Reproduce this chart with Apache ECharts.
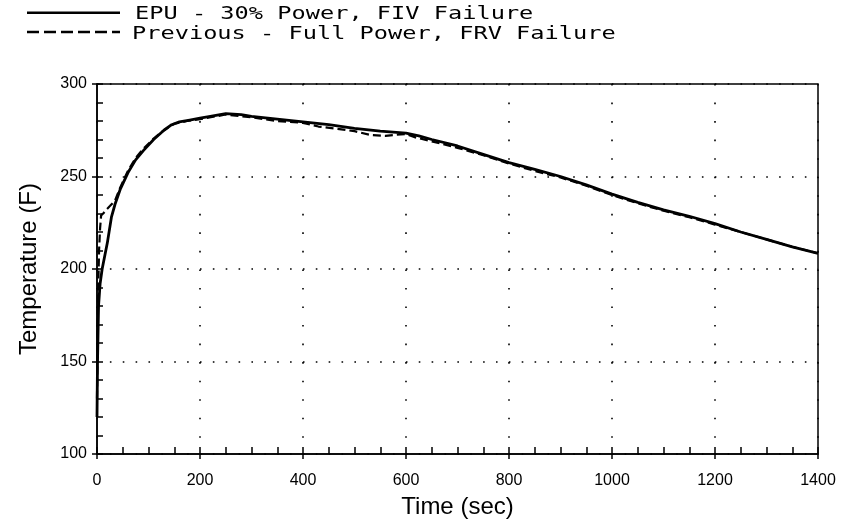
<!DOCTYPE html>
<html>
<head>
<meta charset="utf-8">
<script src="https://cdn.jsdelivr.net/npm/echarts@6/dist/echarts.min.js"></script>
<style>html,body{margin:0;padding:0;background:#fff}#c{width:842px;height:527px}</style>
</head>
<body>
<div id="c"></div>
<script>
// Series names
var seriesNames = ['EPU - 30% Power, FIV Failure', 'Previous - Full Power, FRV Failure'];
// EPU series (solid)
var epuTime = [0, 1, 3, 6, 10, 15, 20, 28, 35, 45, 60, 75, 90, 110, 130, 145, 160, 180, 200, 220, 250, 280, 300, 350, 400, 450, 500, 550, 600, 625, 650, 700, 750, 800, 850, 900, 950, 1000, 1050, 1100, 1150, 1200, 1250, 1300, 1350, 1400];
var epuTemp = [120, 150, 180, 192, 200, 207, 214, 228, 235, 243, 252, 259, 264, 270, 275, 278, 279.5, 280.5, 281.5, 282.5, 284, 283.5, 282.5, 281, 279.5, 278, 276, 274.5, 273.5, 272, 270, 266.5, 262, 257.5, 253.8, 250, 245.5, 240.5, 236, 232, 228.5, 224.5, 220, 216, 212, 208.5];
// Previous series (dashed)
var prevTime = [0, 2, 4, 6, 8, 12, 18, 25, 35, 45, 60, 75, 90, 110, 130, 150, 175, 200, 250, 300, 350, 400, 430, 460, 500, 530, 560, 600, 620, 650, 700, 750, 800, 850, 900, 950, 1000, 1050, 1100, 1150, 1200, 1250, 1300, 1350, 1400];
var prevTemp = [130, 185, 210, 222, 229, 230, 232, 234, 237, 244, 253, 260, 265, 270.5, 275, 278.5, 280, 281, 283.5, 282, 280, 279, 277, 276, 274.5, 272.5, 272, 273, 271, 269, 265.5, 261.5, 257, 253, 249.5, 245, 240, 235.5, 231.5, 228, 224, 220, 216, 212, 208.5];
// Axis settings
var xTitle = 'Time (sec)';
var yTitle = 'Temperature (F)';

function pairs(xs, ys) { return xs.map(function (x, i) { return [x, ys[i]]; }); }
function plain(v) { return String(v); }

var chart = echarts.init(document.getElementById('c'), null, {renderer: 'canvas'});
var lblFont = 'Liberation Sans';
chart.setOption({
  animation: false,
  backgroundColor: '#fff',
  grid: {left: 97, right: 24, top: 84, bottom: 73, show: true, borderColor: '#000', borderWidth: 1.5, backgroundColor: 'transparent'},
  xAxis: [{
    type: 'value', min: 0, max: 1400, interval: 200, position: 'bottom',
    name: xTitle, nameLocation: 'middle', nameGap: 41,
    nameTextStyle: {fontSize: 24, color: '#000', fontFamily: lblFont},
    axisLine: {show: true, lineStyle: {color: '#000', width: 1.5}},
    axisTick: {show: true, inside: false, length: 5, lineStyle: {color: '#000', width: 1.5}},
    axisLabel: {fontSize: 16, color: '#000', margin: 19, fontFamily: lblFont, formatter: plain},
    splitLine: {show: true, lineStyle: {color: '#000', width: 1.6, type: [1.6, 16.94]}}
  }, {
    type: 'value', min: 0, max: 1400, interval: 50, position: 'bottom',
    axisLine: {show: false},
    axisTick: {show: true, inside: true, length: 7, lineStyle: {color: '#000', width: 1.5}},
    axisLabel: {show: false},
    splitLine: {show: false}
  }],
  yAxis: [{
    type: 'value', min: 100, max: 300, interval: 50, position: 'left',
    name: yTitle, nameLocation: 'middle', nameGap: 56,
    nameTextStyle: {fontSize: 24, color: '#000', fontFamily: lblFont},
    axisLine: {show: true, lineStyle: {color: '#000', width: 1.5}},
    axisTick: {show: true, inside: false, length: 5, lineStyle: {color: '#000', width: 1.5}},
    axisLabel: {fontSize: 16, color: '#000', margin: 10, fontFamily: lblFont, formatter: plain},
    splitLine: {show: true, lineStyle: {color: '#000', width: 1.6, type: [1.6, 11.27]}}
  }, {
    type: 'value', min: 100, max: 300, interval: 10, position: 'left',
    axisLine: {show: false},
    axisTick: {show: true, inside: true, length: 6, lineStyle: {color: '#000', width: 1.5}},
    axisLabel: {show: false},
    splitLine: {show: false}
  }],
  series: [{
    name: seriesNames[0], type: 'line', xAxisIndex: 0, yAxisIndex: 0,
    data: pairs(epuTime, epuTemp), symbol: 'none', smooth: false,
    lineStyle: {color: '#000', width: 2.8, type: 'solid'}, z: 3
  }, {
    name: seriesNames[1], type: 'line', xAxisIndex: 0, yAxisIndex: 0,
    data: pairs(prevTime, prevTemp), symbol: 'none', smooth: false,
    lineStyle: {color: '#000', width: 2.2, type: [8, 4]}, z: 4
  }],
  graphic: [
    {type: 'line', shape: {x1: 27, y1: 12.7, x2: 120, y2: 12.7}, style: {stroke: '#000', lineWidth: 2.6}},
    {type: 'line', shape: {x1: 27, y1: 32, x2: 120, y2: 32}, style: {stroke: '#000', lineWidth: 2.6, lineDash: [12, 5]}},
    {type: 'text', x: 135, y: 15, scaleX: 1.39, style: {text: seriesNames[0], fontSize: 17, fontFamily: 'DejaVu Sans Mono', fill: '#000', align: 'left', verticalAlign: 'middle'}},
    {type: 'text', x: 132, y: 34.5, scaleX: 1.39, style: {text: seriesNames[1], fontSize: 17, fontFamily: 'DejaVu Sans Mono', fill: '#000', align: 'left', verticalAlign: 'middle'}}
  ]
});
</script>
</body>
</html>
